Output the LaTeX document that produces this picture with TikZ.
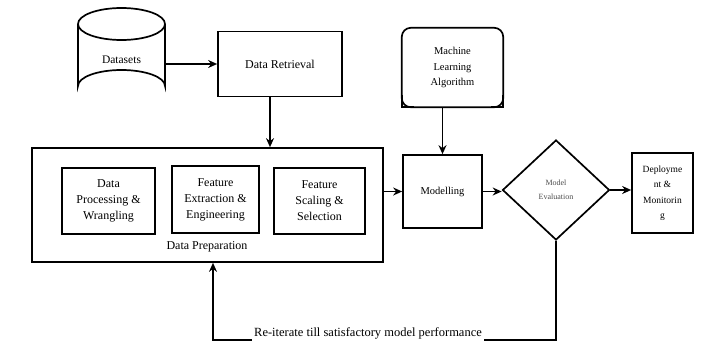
\documentclass[tikz,border=0pt]{standalone}
\usepackage{fontspec}
\setmainfont{Liberation Serif}
\newfontfamily\tnr{Liberation Serif}
\usetikzlibrary{shapes.geometric,arrows.meta,calc}
\begin{document}
\begin{tikzpicture}[x=1pt,y=-1pt,
  ln/.style={line width=1.7pt},
  arr/.style={line width=1.7pt,-{Stealth[length=9pt,width=8pt]}},
  box/.style={draw,line width=1.7pt,rectangle,inner sep=1pt,align=center},
  txt/.style={font=\tnr\fontsize{12}{16}\selectfont,align=center}
]
\useasboundingbox (0,0) rectangle (710,343);
% Datasets cylinder
\draw[ln] (78,24) -- (78,86) arc[start angle=180,end angle=360,x radius=43.5,y radius=16]
  -- (165,24);
\draw[ln] (121.5,24) ellipse[x radius=43.5,y radius=16];
\node[txt,font=\tnr\fontsize{11.5}{14}\selectfont,minimum width=87,minimum height=94,inner sep=0] (ds) at (121.5,60) {Datasets};
% Data Retrieval
\node[box,txt,minimum width=124,minimum height=65] (dr) at (280,64) {Data Retrieval};
% Data Preparation
\node[box,minimum width=351,minimum height=114] (prep) at (207.5,205) {};
\node[txt] (preplab) at (207,247) {Data Preparation};
\node[box,txt,minimum width=93,minimum height=66] (b1) at (108.5,201) {Data\\Processing \&\\Wrangling};
\node[box,txt,minimum width=87,minimum height=67] (b2) at (215.5,199.5) {Feature\\Extraction \&\\Engineering};
\node[box,txt,minimum width=91,minimum height=66] (b3) at (319.5,201) {Feature\\Scaling \&\\Selection};
% Machine Learning Algorithm
\node[txt,font=\tnr\fontsize{10.5}{15.5}\selectfont,minimum width=101,minimum height=79,inner sep=0] (ml) at (452.5,67.5) {Machine\\Learning\\Algorithm};
\draw[ln,rounded corners=9pt] (ml.south west) -- (ml.north west) -- (ml.north east) -- (ml.south east) -- cycle;
\draw[ln] ([yshift=12pt]ml.south west) -- (ml.south west) -- ([xshift=12pt]ml.south west);
\draw[ln] ([yshift=12pt]ml.south east) -- (ml.south east) -- ([xshift=-12pt]ml.south east);
% Modelling
\node[box,txt,font=\tnr\fontsize{10.5}{14}\selectfont,minimum width=79,minimum height=73] (mod) at (442.5,191.5) {Modelling};
% Model Evaluation
\node[draw,diamond,line width=1.7pt,minimum width=107,minimum height=100,aspect=1.07,inner sep=0,align=center,
  font=\tnr\fontsize{8}{14}\selectfont,text=black!70] (ev) at (556,190) {Model\\Evaluation};
% Deployment
\node[box,txt,font=\tnr\fontsize{9.5}{15.5}\selectfont,minimum width=61,minimum height=80] (dep) at (662.5,193) {Deployme\\nt \&\\Monitorin\\g};
% connectors
\draw[arr] (ds.east |- dr.west) -- (dr.west);
\coordinate (drs) at ($(dr.south)+(-10,0)$);
\draw[arr] (drs) -- (drs |- prep.north);
\draw[arr] (ml.south -| mod.north) -- (mod.north);
\draw[arr] (prep.east |- mod.west) -- (mod.west);
\draw[arr] (mod.east) -- (mod.east -| ev.west);
\draw[arr] (ev.east) -- (ev.east -| dep.west);
\coordinate (fbr) at (ev.south |- 0,340);
\coordinate (fbl) at (213,340);
\draw[arr] (ev.south) -- (fbr) -- (fbl) -- (fbl |- prep.south);
\node[txt,fill=white,inner sep=2pt,font=\tnr\fontsize{12.5}{14}\selectfont] (fbt) at (368,333) {Re-iterate till satisfactory model performance};
\end{tikzpicture}
\end{document}
